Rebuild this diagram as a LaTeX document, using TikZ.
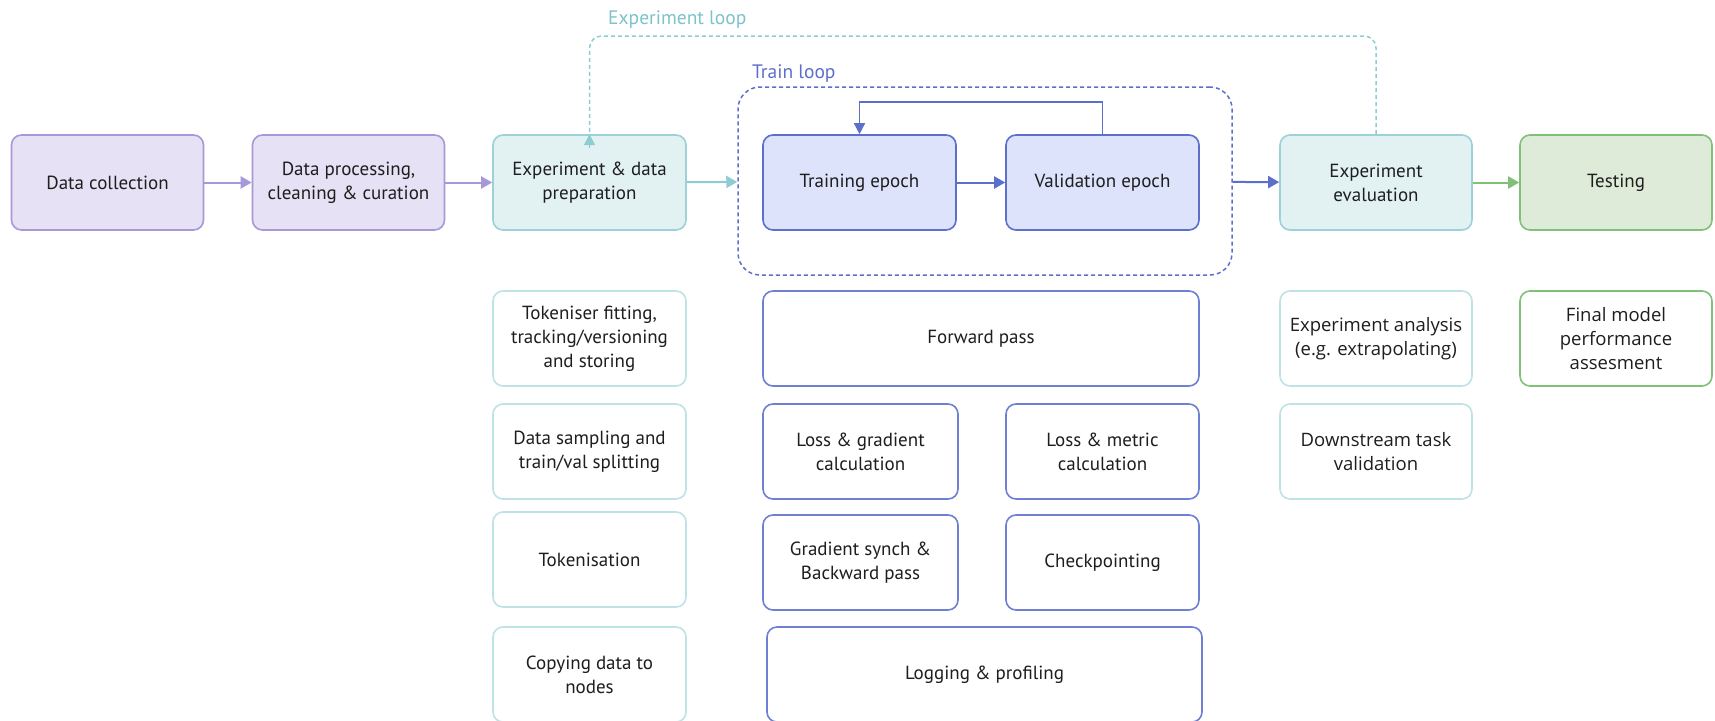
\documentclass[tikz,border=0pt]{standalone}
\usepackage{fontspec}
\setmainfont{PT Sans}
\newfontfamily\subfont{Open Sans}
\usetikzlibrary{arrows.meta}
\definecolor{purpF}{HTML}{E6E1F4}
\definecolor{purpS}{HTML}{A898DA}
\definecolor{tealF}{HTML}{E2F2F3}
\definecolor{tealS}{HTML}{9DD0D7}
\definecolor{tealL}{HTML}{BFE2E6}
\definecolor{tealA}{HTML}{8FCBD3}
\definecolor{tealT}{HTML}{7CC3CC}
\definecolor{blueF}{HTML}{DCE3FA}
\definecolor{blueS}{HTML}{5C6FCC}
\definecolor{blueL}{HTML}{6E80D4}
\definecolor{greenF}{HTML}{DDEBD8}
\definecolor{greenS}{HTML}{80C078}
\definecolor{txt}{HTML}{1E1E1E}
\begin{document}
\begin{tikzpicture}[x=1pt,y=-1pt,
  box/.style={rounded corners=10pt, line width=1.6pt, minimum width=192pt, minimum height=95pt,
    align=center, text=txt, font=\fontsize{19}{24}\selectfont, inner sep=2pt},
  purp/.style={box, draw=purpS, fill=purpF},
  teal/.style={box, draw=tealS, fill=tealF},
  tealw/.style={box, draw=tealL, fill=white},
  blue/.style={box, draw=blueS, fill=blueF},
  bluew/.style={box, draw=blueL, fill=white},
  green/.style={box, draw=greenS, fill=greenF},
  greenw/.style={box, draw=greenS, fill=white},
  subf/.style={font=\subfont\fontsize{18.5}{24}\selectfont},
  arr/.style={-{Triangle[length=11pt,width=12pt]}, line width=2pt},
  lbl/.style={anchor=west, font=\fontsize{19.5}{22}\selectfont, inner sep=0pt}
]
\useasboundingbox (0,0) rectangle (1715,720);
\fill[white] (0,0) rectangle (1715,720);

% top row
\node[purp] (dc) at (107.5,182.5) {Data collection};
\node[purp] (dp) at (348.5,182.5) {Data processing,\\cleaning \& curation};
\node[teal, minimum width=193pt] (ep) at (589.5,182.5) {Experiment \& data\\preparation};
\node[blue, minimum width=193pt] (te) at (859.5,182.5) {Training epoch};
\node[blue, minimum width=193pt] (ve) at (1102.5,182.5) {Validation epoch};
\node[teal] (ee) at (1376,182.5) {Experiment\\evaluation};
\node[green] (ts) at (1616,182.5) {Testing};

% train loop container
\node[draw=blueS, line width=1.5pt, dash pattern=on 4pt off 3pt, rounded corners=22pt,
  minimum width=494pt, minimum height=188pt, inner sep=0pt] (tl) at (985,181) {};
\node[lbl, text=blueS] (tll) at (752,74) {Train loop};
\node[lbl, text=tealT] (ell) at (608,20) {Experiment loop};

% main arrows
\draw[arr, purpS] (dc) -- (dp);
\draw[arr, purpS] (dp) -- (ep);
\draw[arr, tealA] (ep) -- (tl);
\draw[arr, blueS] (te) -- (ve);
\draw[arr, blueS] (tl) -- (ee);
\draw[arr, greenS] (ee) -- (ts);

% train loop inner arrow
\coordinate (tA) at (1102.5,102);
\coordinate (tB) at (859.5,102);
\draw[blueS, line width=1.5pt, -{Triangle[length=11pt,width=11pt]}] (ve.north) -- (tA) -- (tB) -- (te.north);

% experiment loop
\coordinate (eA) at (1376,36);
\coordinate (eB) at (589.5,36);
\draw[tealA, line width=1.5pt, dash pattern=on 4pt off 3pt, rounded corners=12pt] (ee.north) -- (eA) -- (eB) -- ([yshift=-14pt]ep.north);
\draw[tealA, line width=1.5pt, -{Triangle[length=11pt,width=11pt]}] ([yshift=-14pt]ep.north) -- (ep.north);

% column 1 (teal, white)
\node[tealw, minimum width=193pt] (t1) at (589.5,338.5) {Tokeniser fitting,\\tracking/versioning\\and storing};
\node[tealw, minimum width=193pt] (t2) at (589.5,451.5) {Data sampling and\\train/val splitting};
\node[tealw, minimum width=193pt] (t3) at (589.5,559.5) {Tokenisation};
\node[tealw, minimum width=193pt] (t4) at (589.5,674.5) {Copying data to\\nodes};

% blue lower
\node[bluew, minimum width=436pt] (fp) at (981,338.5) {Forward pass};
\node[bluew, minimum width=195pt] (lg) at (860.5,451.5) {Loss \& gradient\\calculation};
\node[bluew, minimum width=193pt] (lm) at (1102.5,451.5) {Loss \& metric\\calculation};
\node[bluew, minimum width=195pt] (gs) at (860.5,562.5) {Gradient synch \&\\Backward pass};
\node[bluew, minimum width=193pt] (ck) at (1102.5,562.5) {Checkpointing};
\node[bluew, minimum width=435pt] (lp) at (984.5,674.5) {Logging \& profiling};

% evaluation / testing lower
\node[tealw, subf] (ea) at (1376,338.5) {Experiment analysis\\(e.g. extrapolating)};
\node[tealw, subf] (dt) at (1376,451.5) {Downstream task\\validation};
\node[greenw, subf] (fm) at (1616,338.5) {Final model\\performance\\assesment};
\end{tikzpicture}
\end{document}
